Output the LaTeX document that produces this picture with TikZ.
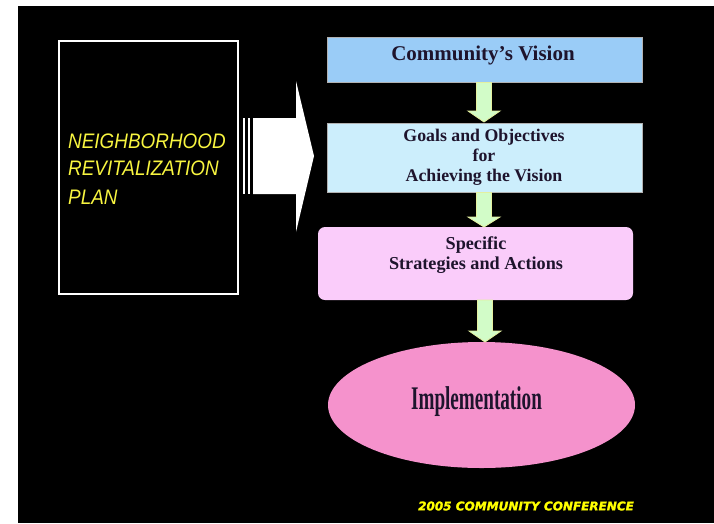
\documentclass[tikz,border=0pt]{standalone}
\usepackage{fontspec}
\usetikzlibrary{shapes.geometric}
\setmainfont{Liberation Serif}
\newfontfamily\nrfont[FakeStretch=0.9]{Liberation Sans}
\newfontfamily\implfont[FakeStretch=0.58]{Liberation Serif}
\newfontfamily\footfont[FakeBold=1.6]{DejaVu Sans}
\definecolor{visionblue}{RGB}{154,204,247}
\definecolor{goalblue}{RGB}{204,238,252}
\definecolor{stratpink}{RGB}{250,204,250}
\definecolor{implpink}{RGB}{245,146,204}
\definecolor{arrgreen}{RGB}{210,252,200}
\definecolor{arredge}{RGB}{228,240,160}
\definecolor{plantext}{RGB}{248,245,64}
\definecolor{foottext}{RGB}{255,255,0}
\definecolor{boxtext}{RGB}{30,20,45}
\newcommand\garrow[4]{%
  \filldraw[garrowstyle] (#1-7.5,#2) -- (#1+7.5,#2) -- (#1+7.5,#3) -- (#1+16,#3)
    -- (#1,#4) -- (#1-16,#3) -- (#1-7.5,#3) -- cycle;}
\begin{document}
\begin{tikzpicture}[x=1pt,y=-1pt,
  boxstyle/.style={rectangle,inner sep=0pt,minimum width=315pt,draw=gray!60,line width=0.6pt},
  boxlabel/.style={inner sep=0pt,align=center,text=boxtext,font=\bfseries\fontsize{17.8}{20}\selectfont},
  garrowstyle/.style={fill=arrgreen,draw=arredge,line width=0.8pt},
  plan/.style={inner sep=0pt,anchor=base west,text=plantext,font=\nrfont\itshape\fontsize{21}{24}\selectfont}]
\useasboundingbox (0,0) rectangle (714,523);
\fill[white] (0,0) rectangle (714,523);
\fill[black] (18,6) rectangle (714,523);
% left box
\node[draw=white,line width=2.2pt,inner sep=0pt,minimum width=179pt,minimum height=253pt] (planbox) at (148.5,167.5) {};
\node[plan] (p1) at (68,148) {NEIGHBORHOOD};
\node[plan] (p2) at (68,175.5) {REVITALIZATION};
\node[plan] (p3) at (68,204) {PLAN};
% block arrow
\fill[white] (253,118) -- (296,118) -- (296,81) -- (314,156) -- (296,232) -- (296,194) -- (253,194) -- cycle;
\fill[white] (243,118) rectangle (245.2,194);
\fill[white] (247.5,118) rectangle (249.7,194);
% boxes
\node[boxstyle,fill=visionblue,minimum height=45pt] (b1) at (484.5,59.5) {};
\node[boxstyle,fill=goalblue,minimum height=69pt] (b2) at (484.5,157.5) {};
\node[boxstyle,fill=stratpink,minimum height=73pt,rounded corners=7pt,draw=none] (b3) at (475.5,263.5) {};
\node[ellipse,fill=implpink,inner sep=0pt,minimum width=307pt,minimum height=126pt] (b4) at (481.5,405) {};
% labels
\node[boxlabel,font=\bfseries\fontsize{21}{24}\selectfont] (t1) at (483,55) {Community’s Vision};
\node[boxlabel] (t2) at (484,157) {Goals and Objectives\\for\\Achieving the Vision};
\node[boxlabel,font=\bfseries\fontsize{18.2}{20}\selectfont] (t3) at (476,255) {Specific\\Strategies and Actions};
\node[inner sep=0pt,anchor=base,text=boxtext,font=\implfont\bfseries\fontsize{33}{36}\selectfont] (t4) at (476.5,409) {Implementation};
% green arrows
\garrow{484}{82.5}{111}{122}
\garrow{484}{192.5}{217}{227}
\garrow{485}{300}{331}{342}
% footer
\node[inner sep=0pt,text=foottext,font=\footfont\bfseries\itshape\fontsize{12}{14}\selectfont] (foot) at (526,506) {2005 COMMUNITY CONFERENCE};
\end{tikzpicture}
\end{document}
